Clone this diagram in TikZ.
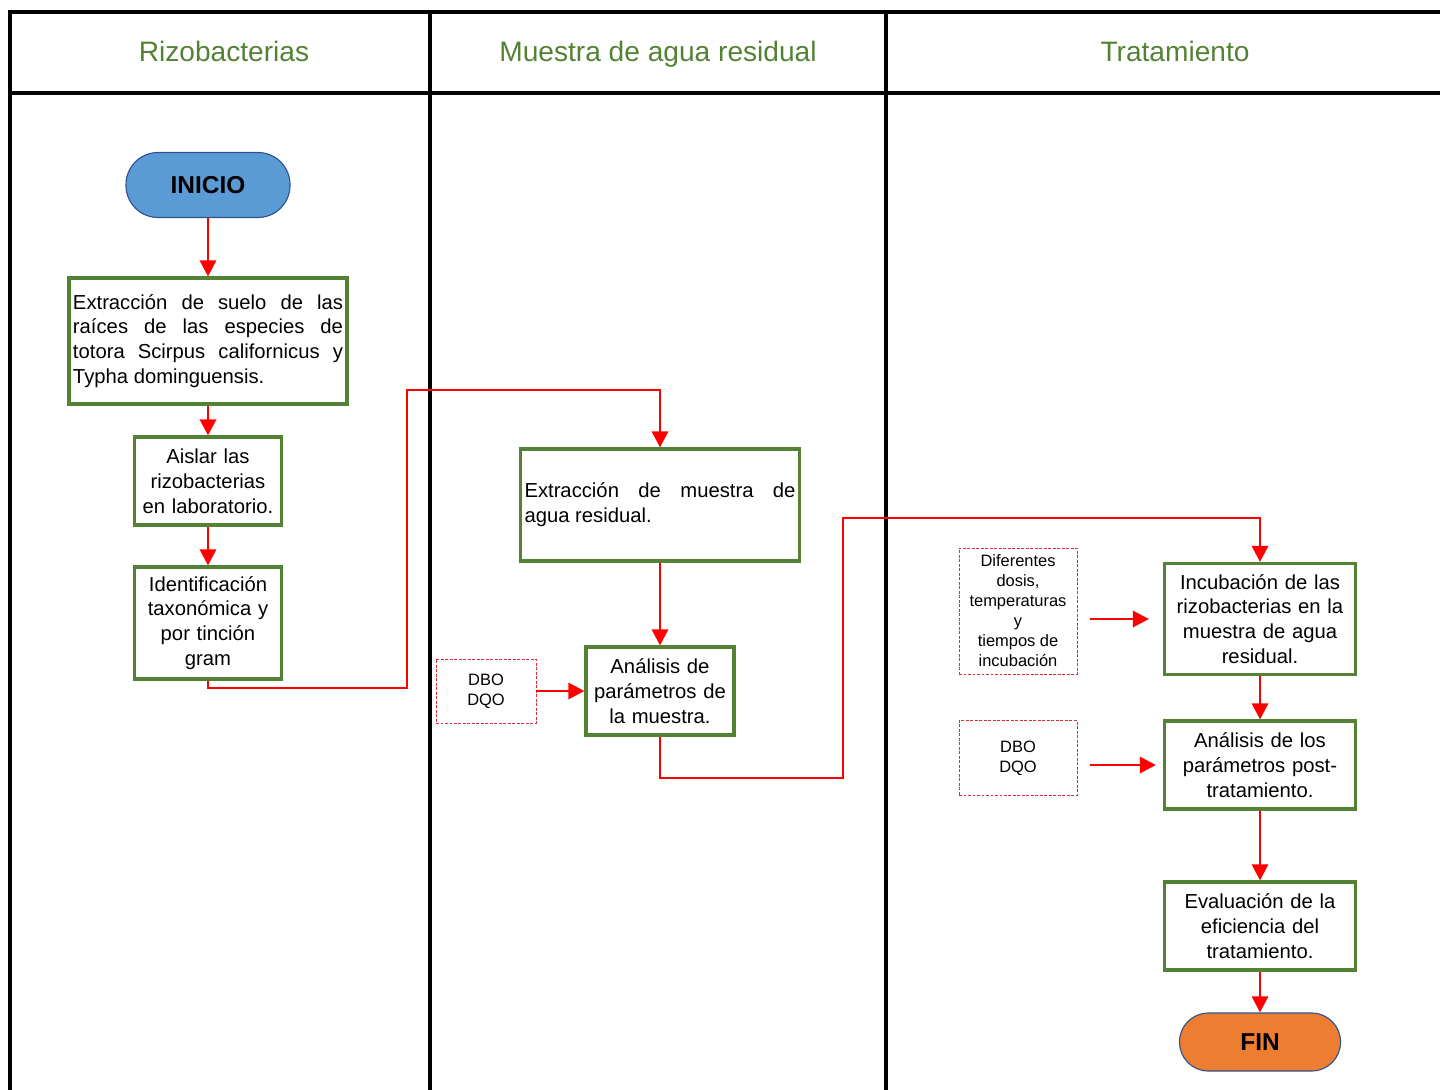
\documentclass[tikz,border=0pt]{standalone}
\usepackage{fontspec}
\setmainfont{Liberation Sans}
\usetikzlibrary{arrows.meta}

\definecolor{boxgreen}{HTML}{548235}
\definecolor{startblue}{HTML}{5B9BD5}
\definecolor{edgeblue}{HTML}{2F528F}
\definecolor{endorange}{HTML}{ED7D31}
\definecolor{dashred}{HTML}{D83030}

\tikzset{
  lane/.style={line width=2.4pt, line cap=rect},
  lanetitle/.style={text=boxgreen, anchor=base, font=\fontsize{20}{24}\selectfont},
  proc/.style={draw=boxgreen, line width=2.2pt, fill=white, inner sep=1mm,
    font=\fontsize{14.4}{17.7}\selectfont},
  term/.style={draw=edgeblue, line width=0.8pt, inner sep=0pt,
    font=\bfseries\fontsize{17.4}{20}\selectfont},
  note/.style={draw=dashred, dashed, dash pattern=on 2pt off 1.2pt, line width=0.6pt,
    align=center, inner sep=0pt, font=\fontsize{11.7}{14.2}\selectfont},
  flow/.style={red, line width=2.1pt, -{Triangle[length=4mm,width=4mm]}},
}

\begin{document}
\begin{tikzpicture}[x=0.25mm, y=-0.25mm]
    \useasboundingbox (0,0) rectangle (1440,1089);

    % Lanes
    \draw[lane] (10,1089) -- (10,12) -- (1440,12);
    \draw[lane] (10,93) -- (1440,93);
    \draw[lane] (430,12) -- (430,1089);
    \draw[lane] (886,12) -- (886,1089);
    \node[lanetitle] (tit1) at (224,61) {Rizobacterias};
    \node[lanetitle] (tit2) at (658,61) {Muestra de agua residual};
    \node[lanetitle] (tit3) at (1175,61) {Tratamiento};

    % Rizobacterias
    \node[term, fill=startblue, minimum width=41mm, minimum height=16.25mm,
      rounded corners=8mm] (start) at (208,185) {INICIO};
    \node[proc, text width=67.5mm, minimum height=31.5mm, align=justify] (suelo) at (208,341)
      {Extracción de suelo de las\linebreak raíces de las especies de\linebreak totora Scirpus californicus y\linebreak Typha dominguensis.};
    \node[proc, text width=34.75mm, minimum height=22mm, align=center] (aislar) at (208,481)
      {Aislar las\\ rizobacterias\\ en laboratorio.};
    \node[proc, text width=34.75mm, minimum height=28mm, align=center] (ident) at (208,623)
      {Identificación\\ taxonómica y\\ por tinción\\ gram};

    % Muestra de agua residual
    \node[proc, text width=67.75mm, minimum height=28mm, align=justify] (muestra) at (660,505)
      {Extracción de muestra de\linebreak agua residual.};
    \node[proc, text width=35mm, minimum height=22mm, align=center] (param) at (660,691)
      {Análisis de\\ parámetros de\\ la muestra.};
    \node[note, minimum width=25mm, minimum height=16mm] (dbo1) at (486,691) {DBO\\ DQO};

    % Tratamiento
    \node[proc, text width=45.75mm, minimum height=27.75mm, align=center] (incub) at (1260,619)
      {Incubación de las\\ rizobacterias en la\\ muestra de agua\\ residual.};
    \node[proc, text width=45.75mm, minimum height=22mm, align=center] (postan) at (1260,765)
      {Análisis de los\\ parámetros post-\\ tratamiento.};
    \node[proc, text width=45.75mm, minimum height=22mm, align=center] (evalua) at (1260,926)
      {Evaluación de la\\ eficiencia del\\ tratamiento.};
    \node[term, fill=endorange, minimum width=40.25mm, minimum height=14.5mm,
      rounded corners=7.2mm] (fin) at (1260,1042) {FIN};
    \node[note, minimum width=29.5mm, minimum height=31.5mm] (dosis) at (1018,611)
      {Diferentes\\ dosis,\\ temperaturas\\ y\\ tiempos de\\ incubación};
    \node[note, minimum width=29.5mm, minimum height=18.75mm] (dbo2) at (1018,758) {DBO\\ DQO};

    % Connectors
    \coordinate (bendA) at (407,688);
    \coordinate (bendB) at (407,390);
    \coordinate (bendC) at (843,778);
    \coordinate (bendD) at (843,518);

    \foreach \a/\b in {start/suelo, suelo/aislar, aislar/ident, muestra/param,
      dbo1/param, incub/postan, postan/evalua, evalua/fin}
        \draw[flow] (\a) -- (\b);

    \draw[flow] (ident.south) |- (bendA) -- (bendB) -| (muestra.north);
    \draw[flow] (param.south) |- (bendC) -- (bendD) -| (incub.north);
    \draw[flow, shorten <=3.25mm, shorten >=3.5mm] (dosis.east |- incub.west) -- (incub.west);
    \draw[flow, shorten <=3.25mm, shorten >=1.75mm] (dbo2.east |- postan.west) -- (postan.west);
\end{tikzpicture}
\end{document}
